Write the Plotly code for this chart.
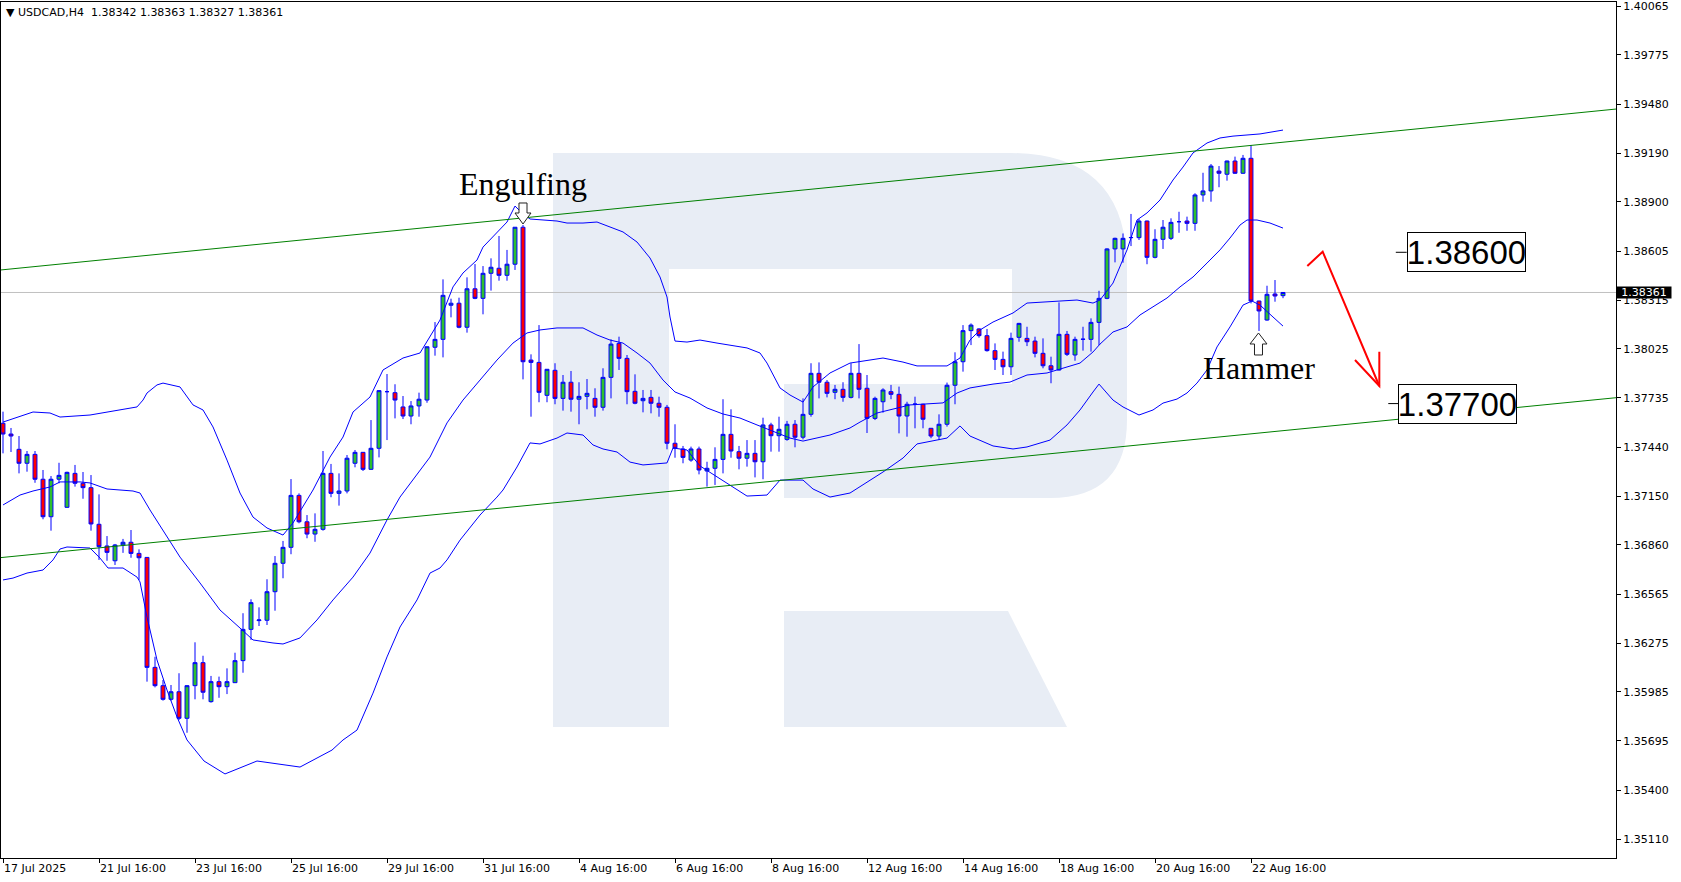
import plotly.graph_objects as go

# ---------------- data ----------------
time_labels = ["17 Jul 2025", "21 Jul 16:00", "23 Jul 16:00", "25 Jul 16:00", "29 Jul 16:00",
               "31 Jul 16:00", "4 Aug 16:00", "6 Aug 16:00", "8 Aug 16:00", "12 Aug 16:00",
               "14 Aug 16:00", "18 Aug 16:00", "20 Aug 16:00", "22 Aug 16:00"]
time_label_bars = [0, 12, 24, 36, 48, 60, 72, 84, 96, 108, 120, 132, 144, 156]

price_ticks = [1.40065, 1.39775, 1.39480, 1.39190, 1.38900, 1.38605, 1.38315, 1.38025,
               1.37735, 1.37440, 1.37150, 1.36860, 1.36565, 1.36275, 1.35985, 1.35695,
               1.35400, 1.35110]

open_ = [1.37583, 1.37519, 1.37428, 1.37345, 1.37398, 1.37250, 1.37027, 1.37250, 1.37083, 1.37285,
         1.37226, 1.37200, 1.36982, 1.36853, 1.36765, 1.36859, 1.36875, 1.36809, 1.36785, 1.36131,
         1.36022, 1.35941, 1.35986, 1.35828, 1.36022, 1.36159, 1.35927, 1.36046, 1.36016, 1.36040,
         1.36171, 1.36357, 1.36409, 1.36411, 1.36581, 1.36750, 1.36845, 1.37154, 1.36997, 1.36924,
         1.36952, 1.37285, 1.37166, 1.37180, 1.37345, 1.37410, 1.37309, 1.37434, 1.37771, 1.37765,
         1.37680, 1.37626, 1.37686, 1.37721, 1.38035, 1.38082, 1.38285, 1.38297, 1.38154, 1.38383,
         1.38326, 1.38475, 1.38505, 1.38463, 1.38529, 1.38749, 1.37959, 1.37945, 1.37749, 1.37898,
         1.37731, 1.37827, 1.37726, 1.37743, 1.37731, 1.37678, 1.37856, 1.38058, 1.37969, 1.37773,
         1.37717, 1.37737, 1.37702, 1.37678, 1.37464, 1.37430, 1.37364, 1.37430, 1.37299, 1.37315,
         1.37368, 1.37517, 1.37414, 1.37375, 1.37404, 1.37354, 1.37573, 1.37509, 1.37487, 1.37577,
         1.37500, 1.37636, 1.37880, 1.37827, 1.37767, 1.37785, 1.37737, 1.37880, 1.37791, 1.37612,
         1.37711, 1.37771, 1.37755, 1.37626, 1.37696, 1.37696, 1.37553, 1.37507, 1.37577, 1.37809,
         1.37949, 1.38134, 1.38144, 1.38104, 1.38015, 1.37963, 1.37919, 1.38094, 1.38088, 1.38072,
         1.37999, 1.37925, 1.37900, 1.38112, 1.37989, 1.38082, 1.38082, 1.38183, 1.38326, 1.38620,
         1.38620, 1.38687, 1.38687, 1.38786, 1.38570, 1.38677, 1.38683, 1.38782, 1.38786, 1.38772,
         1.38941, 1.38965, 1.39083, 1.39064, 1.39143, 1.39070, 1.39159, 1.38310, 1.38197, 1.38352,
         1.38342]
high = [1.37652, 1.37555, 1.37507, 1.37418, 1.37418, 1.37305, 1.37269, 1.37348, 1.37295, 1.37335,
        1.37293, 1.37275, 1.37160, 1.36912, 1.36865, 1.36895, 1.36948, 1.36833, 1.36787, 1.36194,
        1.36056, 1.36026, 1.36096, 1.36025, 1.36280, 1.36200, 1.36080, 1.36076, 1.36125, 1.36218,
        1.36453, 1.36536, 1.36488, 1.36655, 1.36793, 1.36883, 1.37251, 1.37166, 1.37037, 1.37047,
        1.37418, 1.37341, 1.37285, 1.37394, 1.37424, 1.37412, 1.37602, 1.37780, 1.37876, 1.37815,
        1.37745, 1.37715, 1.37765, 1.38040, 1.38185, 1.38439, 1.38324, 1.38330, 1.38451, 1.38530,
        1.38518, 1.38564, 1.38697, 1.38614, 1.38750, 1.38762, 1.37993, 1.38167, 1.37905, 1.37940,
        1.37870, 1.37894, 1.37827, 1.37846, 1.37791, 1.37910, 1.38082, 1.38098, 1.37989, 1.37874,
        1.37781, 1.37781, 1.37741, 1.37692, 1.37577, 1.37448, 1.37444, 1.37444, 1.37354, 1.37440,
        1.37726, 1.37666, 1.37448, 1.37483, 1.37483, 1.37616, 1.37586, 1.37622, 1.37597, 1.37602,
        1.37731, 1.37940, 1.37945, 1.37840, 1.37811, 1.37827, 1.37940, 1.38054, 1.37870, 1.37741,
        1.37791, 1.37811, 1.37801, 1.37711, 1.37741, 1.37699, 1.37555, 1.37636, 1.37825, 1.38005,
        1.38167, 1.38177, 1.38148, 1.38144, 1.38058, 1.38009, 1.38122, 1.38180, 1.38157, 1.38098,
        1.38088, 1.37979, 1.38302, 1.38132, 1.38098, 1.38157, 1.38207, 1.38371, 1.38624, 1.38687,
        1.38712, 1.38828, 1.38798, 1.38788, 1.38737, 1.38792, 1.38802, 1.38841, 1.38812, 1.38951,
        1.39073, 1.39125, 1.39113, 1.39145, 1.39169, 1.39179, 1.39238, 1.38312, 1.38401, 1.38435,
        1.38363]
low = [1.37404, 1.37412, 1.37285, 1.37295, 1.37229, 1.37012, 1.36944, 1.37226, 1.37080, 1.37206,
       1.37134, 1.36944, 1.36770, 1.36765, 1.36740, 1.36812, 1.36783, 1.36651, 1.36046, 1.36012,
       1.35933, 1.35933, 1.35818, 1.35742, 1.35941, 1.35941, 1.35921, 1.35950, 1.35972, 1.36038,
       1.36099, 1.36294, 1.36377, 1.36383, 1.36468, 1.36661, 1.36804, 1.36988, 1.36899, 1.36878,
       1.36944, 1.37143, 1.37093, 1.37166, 1.37321, 1.37299, 1.37305, 1.37380, 1.37483, 1.37612,
       1.37608, 1.37577, 1.37622, 1.37705, 1.37985, 1.37975, 1.38213, 1.38148, 1.38122, 1.38321,
       1.38231, 1.38372, 1.38431, 1.38431, 1.38495, 1.37844, 1.37622, 1.37708, 1.37708, 1.37696,
       1.37658, 1.37652, 1.37577, 1.37666, 1.37622, 1.37658, 1.37731, 1.37900, 1.37696, 1.37696,
       1.37648, 1.37642, 1.37622, 1.37428, 1.37378, 1.37345, 1.37354, 1.37279, 1.37206, 1.37216,
       1.37285, 1.37378, 1.37309, 1.37325, 1.37261, 1.37250, 1.37414, 1.37414, 1.37479, 1.37440,
       1.37487, 1.37622, 1.37731, 1.37737, 1.37726, 1.37711, 1.37731, 1.37731, 1.37525, 1.37602,
       1.37646, 1.37726, 1.37523, 1.37503, 1.37553, 1.37553, 1.37494, 1.37483, 1.37563, 1.37696,
       1.37890, 1.38048, 1.38092, 1.38009, 1.37900, 1.37870, 1.37870, 1.38068, 1.38042, 1.37975,
       1.37910, 1.37821, 1.37896, 1.37983, 1.37955, 1.38015, 1.38009, 1.38048, 1.38321, 1.38540,
       1.38538, 1.38637, 1.38673, 1.38529, 1.38564, 1.38620, 1.38673, 1.38716, 1.38728, 1.38728,
       1.38901, 1.38901, 1.38987, 1.39026, 1.39066, 1.39066, 1.38296, 1.38132, 1.38193, 1.38306,
       1.38327]
close = [1.37519, 1.37507, 1.37345, 1.37398, 1.37250, 1.37027, 1.37250, 1.37273, 1.37291, 1.37226,
         1.37200, 1.36984, 1.36849, 1.36815, 1.36859, 1.36875, 1.36809, 1.36783, 1.36131, 1.36022,
         1.35941, 1.35986, 1.35828, 1.36022, 1.36159, 1.35983, 1.36046, 1.36016, 1.36046, 1.36171,
         1.36357, 1.36516, 1.36413, 1.36581, 1.36750, 1.36845, 1.37154, 1.36997, 1.36924, 1.36952,
         1.37285, 1.37166, 1.37180, 1.37375, 1.37410, 1.37309, 1.37434, 1.37777, 1.37771, 1.37721,
         1.37626, 1.37686, 1.37726, 1.38038, 1.38082, 1.38344, 1.38297, 1.38154, 1.38383, 1.38326,
         1.38475, 1.38511, 1.38463, 1.38529, 1.38749, 1.37949, 1.37945, 1.37767, 1.37904, 1.37731,
         1.37827, 1.37726, 1.37743, 1.37761, 1.37678, 1.37856, 1.38054, 1.37969, 1.37771, 1.37702,
         1.37731, 1.37702, 1.37678, 1.37464, 1.37434, 1.37380, 1.37430, 1.37305, 1.37315, 1.37368,
         1.37517, 1.37418, 1.37375, 1.37404, 1.37354, 1.37573, 1.37509, 1.37547, 1.37577, 1.37500,
         1.37636, 1.37880, 1.37827, 1.37761, 1.37785, 1.37737, 1.37880, 1.37785, 1.37612, 1.37731,
         1.37781, 1.37755, 1.37626, 1.37696, 1.37697, 1.37607, 1.37507, 1.37577, 1.37809, 1.37949,
         1.38134, 1.38167, 1.38104, 1.38015, 1.37963, 1.37919, 1.38088, 1.38177, 1.38068, 1.37999,
         1.37925, 1.37900, 1.38112, 1.37993, 1.38082, 1.38083, 1.38183, 1.38326, 1.38620, 1.38683,
         1.38683, 1.38688, 1.38786, 1.38570, 1.38677, 1.38749, 1.38778, 1.38782, 1.38772, 1.38941,
         1.38965, 1.39113, 1.39070, 1.39143, 1.39070, 1.39159, 1.38310, 1.38251, 1.38350, 1.38340,
         1.38361]

# Bollinger bands, x in bar index
bb_upper_x = [0, 3.75, 5.875, 7.125, 10.875, 14.25, 16.75, 17.5, 18, 19.25, 20, 22.125, 23.75, 25,
              26.25, 28, 29.625, 31.25, 33, 35, 36.25, 38.75, 40.875, 42.5, 43.75, 45.875, 47.5, 50,
              52.125, 54.625, 56.25, 57.5, 59.25, 60, 61.75, 63, 64, 64.875, 65.875, 69.25, 70.5,
              72.5, 74.25, 75.875, 77.5, 79.25, 80.875, 82.125, 83, 83.375, 84, 85.5, 87.125, 89.25,
              93, 94.625, 95.5, 97.125, 98.375, 100, 101.25, 103.375, 105.875, 110, 112.5, 114.25,
              118, 119.625, 120.875, 122.125, 123.75, 126.25, 128, 132.125, 134.25, 136.25, 137.125,
              138.75, 140.5, 141.75, 143, 144.625, 146.25, 147.5, 148.75, 150.5, 152.125, 153.75,
              157.125, 160]
bb_upper = [1.37590, 1.37650, 1.37644, 1.37620, 1.37632, 1.37662, 1.37680, 1.37721, 1.37763, 1.37811,
            1.37822, 1.37799, 1.37692, 1.37662, 1.37561, 1.37364, 1.37168, 1.37025, 1.36960, 1.36918,
            1.36990, 1.37186, 1.37382, 1.37501, 1.37650, 1.37739, 1.37900, 1.37971, 1.38001, 1.38197,
            1.38394, 1.38477, 1.38554, 1.38631, 1.38721, 1.38780, 1.38875, 1.38834, 1.38798, 1.38786,
            1.38774, 1.38774, 1.38780, 1.38750, 1.38721, 1.38661, 1.38566, 1.38453, 1.38334, 1.38215,
            1.38072, 1.38066, 1.38078, 1.38060, 1.38031, 1.38001, 1.37941, 1.37793, 1.37751, 1.37709,
            1.37799, 1.37882, 1.37941, 1.37971, 1.37947, 1.37924, 1.37924, 1.37971, 1.38078, 1.38138,
            1.38185, 1.38239, 1.38298, 1.38310, 1.38316, 1.38298, 1.38316, 1.38417, 1.38614, 1.38792,
            1.38834, 1.38911, 1.39030, 1.39107, 1.39191, 1.39250, 1.39280, 1.39291, 1.39304, 1.39327]

bb_mid_x = [0, 2.125, 3.75, 5.875, 7.125, 9.625, 10.875, 13, 16.25, 17.125, 18.375, 20, 22.125,
            24.625, 27.125, 29.625, 31.25, 33.75, 35, 37.125, 39.25, 41.25, 43.75, 45.875, 48,
            49.625, 52.125, 53.375, 55.5, 57.5, 59.625, 61.75, 63.75, 65.5, 67.125, 69.25, 72.5,
            74.25, 75.875, 77.5, 79.25, 80.875, 82.5, 84, 85.875, 88, 90, 92.125, 94.25, 96.25,
            98.375, 100, 101.75, 103.375, 105.875, 107.125, 109.25, 111.25, 113.375, 117.5, 119.25,
            120.875, 123.75, 125.875, 128, 130.5, 132.125, 134.625, 136.25, 137.125, 138.75, 140.5,
            142.125, 143.75, 145.5, 147.125, 148.75, 150.5, 152.125, 153.375, 154.625, 155.5,
            156.75, 158.375, 160]
bb_mid = [1.37097, 1.37156, 1.37180, 1.37204, 1.37234, 1.37234, 1.37228, 1.37192, 1.37180, 1.37168,
          1.37067, 1.36948, 1.36787, 1.36633, 1.36472, 1.36365, 1.36294, 1.36276, 1.36270, 1.36306,
          1.36413, 1.36532, 1.36668, 1.36811, 1.37008, 1.37144, 1.37305, 1.37382, 1.37585, 1.37721,
          1.37840, 1.37959, 1.38060, 1.38120, 1.38138, 1.38150, 1.38150, 1.38108, 1.38078, 1.38060,
          1.38001, 1.37941, 1.37840, 1.37769, 1.37733, 1.37674, 1.37638, 1.37614, 1.37573, 1.37537,
          1.37495, 1.37477, 1.37495, 1.37513, 1.37555, 1.37590, 1.37644, 1.37668, 1.37692, 1.37704,
          1.37763, 1.37793, 1.37816, 1.37828, 1.37870, 1.37882, 1.37906, 1.37941, 1.38007, 1.38054,
          1.38126, 1.38156, 1.38227, 1.38275, 1.38328, 1.38394, 1.38453, 1.38536, 1.38614, 1.38685,
          1.38762, 1.38792, 1.38792, 1.38774, 1.38744]

bb_lower_x = [0, 1.25, 3, 5, 6.25, 7.125, 8, 10.875, 12.125, 13.125, 15, 16.75, 17.125, 18, 19.25,
              20.5, 21.75, 23, 25.125, 27.75, 31.75, 37.125, 41.125, 42.5, 44.25, 46.25, 48, 49.625,
              51.75, 53.375, 54.625, 55.5, 57.125, 59.625, 61.75, 62.5, 64.25, 65.875, 67.125, 69.25,
              70.5, 72.5, 73.75, 75, 76.75, 78.375, 80, 81.75, 83, 83.75, 85.5, 87.125, 89.25, 93,
              95.5, 97.125, 100, 101.25, 103.375, 105.875, 110, 112.5, 114.25, 118, 119.625, 120.875,
              123.75, 126.25, 128, 130.875, 133, 134.625, 136.25, 137, 138.75, 140, 142, 143.75, 145,
              146.75, 148, 149.25, 150.5, 151.75, 153.375, 155, 156.125, 157.125, 158.75, 160]
bb_lower = [1.36651, 1.36662, 1.36692, 1.36710, 1.36770, 1.36835, 1.36847, 1.36841, 1.36781, 1.36722,
            1.36722, 1.36668, 1.36639, 1.36430, 1.36175, 1.35996, 1.35836, 1.35699, 1.35574, 1.35497,
            1.35574, 1.35538, 1.35639, 1.35699, 1.35758, 1.35978, 1.36193, 1.36371, 1.36532, 1.36692,
            1.36722, 1.36770, 1.36888, 1.37037, 1.37144, 1.37186, 1.37323, 1.37466, 1.37460, 1.37495,
            1.37525, 1.37513, 1.37454, 1.37430, 1.37412, 1.37352, 1.37335, 1.37341, 1.37347, 1.37436,
            1.37424, 1.37329, 1.37263, 1.37150, 1.37156, 1.37245, 1.37245, 1.37192, 1.37144, 1.37168,
            1.37293, 1.37376, 1.37460, 1.37495, 1.37567, 1.37507, 1.37448, 1.37430, 1.37442, 1.37483,
            1.37573, 1.37662, 1.37769, 1.37816, 1.37721, 1.37680, 1.37632, 1.37662, 1.37703, 1.37727,
            1.37763, 1.37822, 1.37900, 1.38037, 1.38156, 1.38286, 1.38310, 1.38286, 1.38215, 1.38161]

# trend channel (bar index, price)
channel_x = [-0.25, 201.625]
channel_upper = [1.38495, 1.39452]
channel_lower = [1.36784, 1.37735]

last_price = 1.38361
level_high = 1.38600
level_low = 1.37700
header = "\u25BC USDCAD,H4\u00a0\u00a01.38342 1.38363 1.38327 1.38361"

# ---------------- figure ----------------
W, H = 1681, 882
ML, MR, MT, MB = 1, 65, 2, 24
PW, PH = W - ML - MR, H - MT - MB


def fx(px):
    return (px - ML) / PW


def fy(py):
    return (H - MB - py) / PH


def path(points, close_path=True):
    s = "M " + " L ".join(f"{fx(a):.5f},{fy(b):.5f}" for a, b in points)
    return s + (" Z" if close_path else "")


fig = go.Figure()

# watermark logo
logo_col = "#E8EDF5"
shapes = []
shapes.append(dict(type="path", xref="paper", yref="paper", layer="below", line=dict(width=0),
                   fillcolor=logo_col,
                   path=path([(553, 153), (669, 153), (669, 727), (553, 727)])))
bowl = (f"M {fx(669):.5f},{fy(153):.5f} L {fx(1010):.5f},{fy(153):.5f} "
        f"Q {fx(1127):.5f},{fy(153):.5f} {fx(1127):.5f},{fy(268):.5f} "
        f"L {fx(1127):.5f},{fy(420):.5f} "
        f"Q {fx(1127):.5f},{fy(498):.5f} {fx(1050):.5f},{fy(498):.5f} "
        f"L {fx(784):.5f},{fy(498):.5f} L {fx(784):.5f},{fy(384):.5f} "
        f"L {fx(1012):.5f},{fy(384):.5f} L {fx(1012):.5f},{fy(269):.5f} "
        f"L {fx(669):.5f},{fy(269):.5f} Z")
shapes.append(dict(type="path", xref="paper", yref="paper", layer="below", line=dict(width=0),
                   fillcolor=logo_col, path=bowl))
shapes.append(dict(type="path", xref="paper", yref="paper", layer="below", line=dict(width=0),
                   fillcolor=logo_col,
                   path=path([(784, 611), (1008, 611), (1067, 727), (784, 727)])))

# current price line
shapes.append(dict(type="line", xref="paper", yref="y", x0=0, x1=1, y0=last_price, y1=last_price,
                   line=dict(color="#C0C0C0", width=1), layer="below"))
# channel lines
shapes.append(dict(type="line", xref="x", yref="y", x0=channel_x[0], x1=channel_x[1],
                   y0=channel_upper[0], y1=channel_upper[1], line=dict(color="#008000", width=1)))
shapes.append(dict(type="line", xref="x", yref="y", x0=channel_x[0], x1=channel_x[1],
                   y0=channel_lower[0], y1=channel_lower[1], line=dict(color="#008000", width=1)))
# red forecast arrow
arrow_x = [163.04, 164.96, 172.04]
arrow_y = [1.385184, 1.386035, 1.378046]
shapes.append(dict(type="path", xref="x", yref="y", line=dict(color="#FF0000", width=2),
                   path="M " + " L ".join(f"{a},{b}" for a, b in zip(arrow_x, arrow_y))))
shapes.append(dict(type="path", xref="x", yref="y", line=dict(color="#FF0000", width=2),
                   path=f"M 169.0,1.379592 L {arrow_x[2]},{arrow_y[2]} L {arrow_x[2]},1.380086"))
# level tick marks left of the boxes
shapes.append(dict(type="line", xref="x", yref="y", x0=174.1, x1=175.46, y0=level_high, y1=level_high,
                   line=dict(color="black", width=1)))
shapes.append(dict(type="line", xref="x", yref="y", x0=173.16, x1=174.41, y0=level_low, y1=level_low,
                   line=dict(color="black", width=1)))

# hollow pattern arrows (Engulfing: down, Hammer: up)
cx, top = 523, 203
shapes.append(dict(type="path", xref="paper", yref="paper", fillcolor="white",
                   line=dict(color="#222222", width=1),
                   path=path([(cx - 4, top), (cx + 4, top), (cx + 4, top + 10), (cx + 8, top + 10),
                              (cx, top + 21), (cx - 8, top + 10), (cx - 4, top + 10)])))
cx, top = 1258.5, 333
shapes.append(dict(type="path", xref="paper", yref="paper", fillcolor="white",
                   line=dict(color="#222222", width=1),
                   path=path([(cx, top), (cx + 8.5, top + 11), (cx + 4, top + 11), (cx + 4, top + 22),
                              (cx - 4, top + 22), (cx - 4, top + 11), (cx - 8.5, top + 11)])))

bars = list(range(len(open_)))

for bx, by in [(bb_upper_x, bb_upper), (bb_mid_x, bb_mid), (bb_lower_x, bb_lower)]:
    fig.add_trace(go.Scatter(x=bx, y=by, mode="lines", line=dict(color="#0000FF", width=1),
                             hoverinfo="skip", showlegend=False))

fig.add_trace(go.Candlestick(
    x=bars, open=open_, high=high, low=low, close=close,
    increasing=dict(line=dict(color="#0000FF", width=1), fillcolor="#2EC02E"),
    decreasing=dict(line=dict(color="#0000FF", width=1), fillcolor="#FF0000"),
    whiskerwidth=0, showlegend=False, hoverinfo="skip"))

ann = []
ann.append(dict(x=0, y=1, xref="paper", yref="paper", xanchor="left", yanchor="top", text=header,
                showarrow=False, xshift=3, yshift=-2,
                font=dict(family="DejaVu Sans", size=11, color="black")))
ann.append(dict(x=1, y=last_price, xref="paper", yref="y", xanchor="left", yanchor="middle",
                text="1.38361", showarrow=False, bgcolor="black", width=54, height=11, borderpad=0,
                font=dict(family="DejaVu Sans", size=11, color="white")))
ann.append(dict(x=65, y=1.39004, xref="x", yref="y", text="Engulfing", showarrow=False,
                font=dict(family="Liberation Serif", size=32, color="black")))
ann.append(dict(x=157, y=1.37913, xref="x", yref="y", text="Hammer", showarrow=False,
                font=dict(family="Liberation Serif", size=32, color="black")))
ann.append(dict(x=182.9, y=level_high, xref="x", yref="y", text=f"{level_high:.5f}", showarrow=False,
                bgcolor="white", bordercolor="black", borderwidth=1, borderpad=0, width=117, height=38,
                font=dict(family="Liberation Sans", size=33, color="black")))
ann.append(dict(x=181.85, y=level_low, xref="x", yref="y", text=f"{level_low:.5f}", showarrow=False,
                bgcolor="white", bordercolor="black", borderwidth=1, borderpad=0, width=117, height=38,
                font=dict(family="Liberation Sans", size=33, color="black")))

fig.update_layout(
    width=W, height=H, margin=dict(l=ML, r=MR, t=MT, b=MB),
    plot_bgcolor="white", paper_bgcolor="white", showlegend=False,
    shapes=shapes, annotations=ann,
    xaxis=dict(range=[-0.25, 201.625], showgrid=False, zeroline=False, showline=True,
               linecolor="black", linewidth=1, mirror=True, ticks="outside", ticklen=4,
               tickcolor="black", tickvals=time_label_bars, ticktext=time_labels,
               ticklabelposition="outside right",
               tickfont=dict(family="DejaVu Sans", size=11, color="black"),
               rangeslider=dict(visible=False), fixedrange=True),
    yaxis=dict(side="right", range=[1.34997, 1.400888], showgrid=False, zeroline=False,
               showline=True, linecolor="black", linewidth=1, mirror=True, ticks="outside",
               ticklen=4, tickcolor="black", tickvals=price_ticks,
               ticktext=[f"{v:.5f}" for v in price_ticks], ticklabeloverflow="allow",
               tickfont=dict(family="DejaVu Sans", size=11, color="black"), fixedrange=True),
)

fig.write_html("out.html", config={"displayModeBar": False},
               post_script="document.body.style.margin='0px';"
                           "document.body.style.overflow='hidden';")
